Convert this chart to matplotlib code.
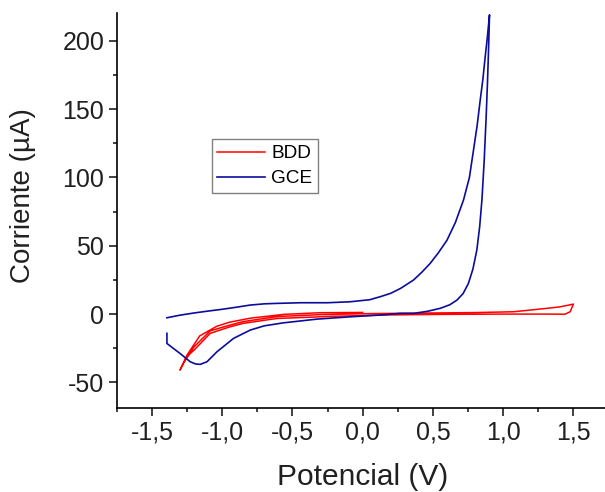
import matplotlib
matplotlib.use("Agg")
import matplotlib.pyplot as plt
from matplotlib.ticker import FixedLocator, MultipleLocator

plt.rcParams['font.family'] = ['Liberation Sans', 'DejaVu Sans']

# GCE cyclic voltammogram (V, uA)
gce_v = [-1.393, -1.3, -1.2, -1.1, -1.0, -0.90, -0.80, -0.70, -0.62, -0.44, -0.25, -0.09, 0.05, 0.125, 0.20, 0.27,
         0.362, 0.42, 0.48, 0.54, 0.60, 0.66, 0.718, 0.76, 0.789, 0.815, 0.837, 0.856, 0.872, 0.888, 0.903,
         0.896, 0.888, 0.879, 0.865, 0.849, 0.833, 0.813, 0.785, 0.753, 0.715, 0.671,
         0.62, 0.552, 0.46, 0.362, 0.267, 0.125, -0.089, -0.326, -0.563, -0.70, -0.80,
         -0.919, -1.037, -1.108, -1.156, -1.19, -1.227, -1.30, -1.393, -1.393]
gce_i = [-2.7, -0.8, 0.8, 2.2, 3.5, 5.0, 6.6, 7.5, 7.8, 8.3, 8.3, 9.0, 10.5, 12.7, 15.2, 18.8,
         24.9, 30.5, 37.0, 45.0, 54.0, 67.0, 83.5, 100.0, 120.0, 138.0, 156.7, 172.0, 188.0, 203.0, 219.0,
         193.0, 168.0, 144.0, 112.0, 83.5, 64.0, 47.0, 33.0, 22.5, 15.0, 10.2,
         6.8, 4.2, 2.0, 0.5, 0.5, -0.7, -2.0, -3.7, -6.4, -8.6, -11.7,
         -17.8, -27.6, -34.9, -36.8, -36.5, -34.9, -28.8, -21.5, -14.1]

# BDD cyclic voltammogram (V, uA)
bdd_v = [0.0, -0.3, -0.56, -0.80, -0.95, -1.04, -1.16, -1.25, -1.30,
         -1.25, -1.20, -1.085, -0.95, -0.85, -0.61, -0.40, -0.20, 0.20, 0.60, 1.00, 1.30, 1.44, 1.477, 1.50,
         1.40, 1.311, 1.074, 0.80, 0.50, 0.20, 0.0, -0.30, -0.61, -0.85, -0.95, -1.085, -1.20, -1.27]
bdd_i = [1.2, 1.0, -0.2, -3.0, -6.0, -9.0, -16.0, -30.0, -41.0,
         -31.0, -26.4, -14.1, -9.5, -6.8, -3.2, -2.4, -1.6, -0.6, -0.2, 0.0, 0.0, -0.1, 1.7, 7.3,
         5.2, 4.2, 1.7, 1.1, 0.8, 0.5, 0.3, -0.4, -1.8, -5.5, -8.2, -12.3, -24.0, -35.0]

x_ticks = [-1.5, -1.0, -0.5, 0.0, 0.5, 1.0, 1.5]
x_labels = ["-1,5", "-1,0", "-0,5", "0,0", "0,5", "1,0", "1,5"]
y_ticks = [-50, 0, 50, 100, 150, 200]
y_labels = ["-50", "0", "50", "100", "150", "200"]

fig = plt.figure(figsize=(6.05, 4.92), dpi=100)
ax = fig.add_axes([0.193, 0.170, 0.807, 0.804])

ax.plot(bdd_v, bdd_i, color='#ff0000', lw=1.1, label='BDD')
ax.plot(gce_v, gce_i, color='#0c0c9c', lw=1.2, label='GCE')

ax.set_xlim(-1.75, 1.725)
ax.set_ylim(-69, 220.5)

ax.xaxis.set_major_locator(FixedLocator(x_ticks))
ax.set_xticklabels(x_labels)
ax.xaxis.set_minor_locator(MultipleLocator(0.25))
ax.yaxis.set_major_locator(FixedLocator(y_ticks))
ax.set_yticklabels(y_labels)
ax.yaxis.set_minor_locator(MultipleLocator(25))

for s in ['top', 'right']:
    ax.spines[s].set_visible(False)
for s in ['left', 'bottom']:
    ax.spines[s].set_linewidth(1.2)

ax.tick_params(which='major', direction='out', length=5.5, width=1.2,
               labelsize=18, pad=3.5, colors='#202020')
ax.tick_params(which='minor', direction='out', length=3, width=1.2, colors='#202020')

ax.set_xlabel('Potencial (V)', fontsize=21.5, color='#202020')
ax.set_ylabel('Corriente (µA)', fontsize=20, color='#202020')
ax.xaxis.set_label_coords(0.504, -0.138)
ax.yaxis.set_label_coords(-0.165, 0.539)

leg = ax.legend(loc='upper left', bbox_to_anchor=(0.1946, 0.680), borderaxespad=0,
                fontsize=13.7, fancybox=False, framealpha=1, edgecolor='#808080',
                handlelength=2.5, handletextpad=0.33, borderpad=0.3, labelspacing=0.4)
leg.get_frame().set_linewidth(1.0)

fig.savefig('out.png', dpi=100)
